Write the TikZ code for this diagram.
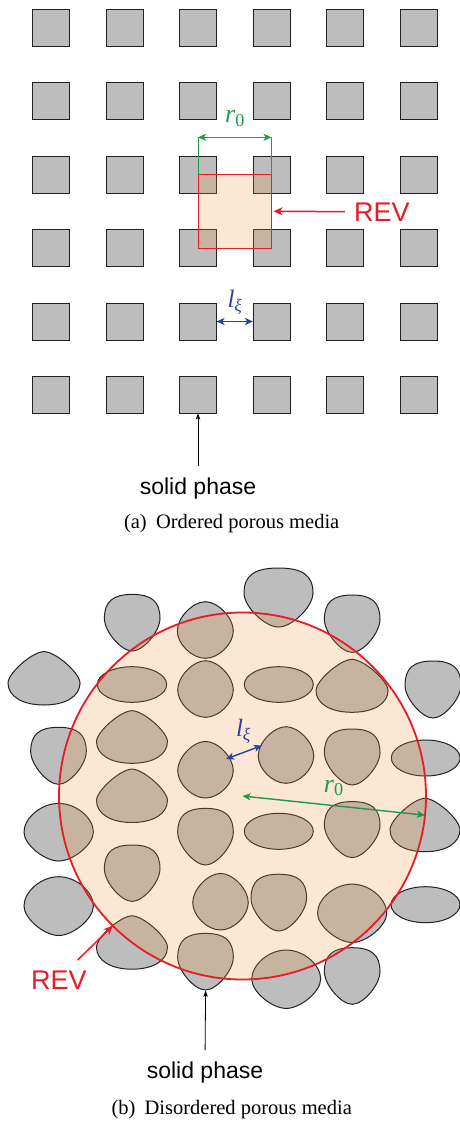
\documentclass[tikz,border=0pt]{standalone}
\usepackage{fontspec}
\setmainfont{Liberation Serif}
\setsansfont{Liberation Sans}
\usetikzlibrary{arrows.meta}
\definecolor{solid}{HTML}{BDBDBD}
\definecolor{edge}{HTML}{222222}
\definecolor{revred}{HTML}{E41E26}
\definecolor{revfill}{HTML}{F08C3C}
\definecolor{dimgreen}{HTML}{1E9A48}
\definecolor{dimblue}{HTML}{2B40A0}
\tikzset{
  sq/.style={draw=edge, fill=solid, line width=1pt, minimum size=37pt, inner sep=0pt, outer sep=0pt},
  blob/.style={draw=edge, fill=solid, line width=1pt},
  redarrow/.style={draw=revred, line width=1.5pt, -{Stealth[length=9pt,width=8pt,inset=2.5pt]}},
  greenarrow/.style={draw=dimgreen, line width=1.4pt, {Stealth[length=8pt,width=7pt,inset=2pt]}-{Stealth[length=8pt,width=7pt,inset=2pt]}},
  bluearrow/.style={draw=dimblue, line width=1.4pt, {Stealth[length=8pt,width=7pt,inset=2pt]}-{Stealth[length=8pt,width=7pt,inset=2pt]}},
  blackarrow/.style={draw=black, line width=0.8pt, -{Stealth[length=6pt,width=4.5pt,inset=1.5pt]}},
  sptext/.style={font=\sffamily\fontsize{23}{27}\selectfont, inner sep=0pt, anchor=base},
  revtext/.style={font=\sffamily\fontsize{27}{32}\selectfont, text=revred, inner sep=0pt, anchor=base},
  captext/.style={font=\fontsize{20.5}{24}\selectfont, inner sep=0pt, anchor=base},
  greenlab/.style={font=\fontsize{26}{30}\selectfont, text=dimgreen, inner sep=0pt},
  bluelab/.style={font=\fontsize{25}{30}\selectfont, text=dimblue, inner sep=0pt},
}
% generic blob: centre x, centre y, half width, half height, height of widest point, top handle, bottom handle
\newcommand\blobQ[7]{\begin{scope}[shift={(#1,#2)},xscale=#3,yscale=#4]
\draw[blob] (1,#5) .. controls (1,{#5-#6*(1+#5)}) and (#6,-1) .. (0,-1)
  .. controls (-#6,-1) and (-1,{#5-#6*(1+#5)}) .. (-1,#5)
  .. controls (-1,{#5+#7*(1-#5)}) and (-#7,1) .. (0,1)
  .. controls (#7,1) and (1,{#5+#7*(1-#5)}) .. cycle;
\end{scope}}
\newcommand\blobT[4]{\blobQ{#1}{#2}{#3}{#4}{-0.15}{0.7}{0.4}}
\newcommand\blobD[4]{\blobQ{#1}{#2}{#3}{#4}{0.03}{0.45}{0.48}}
\newcommand\blobW[4]{\blobQ{#1}{#2}{#3}{#4}{0}{0.5}{0.42}}
\newcommand\blobB[4]{\blobQ{#1}{#2}{#3}{#4}{0.18}{0.32}{0.6}}
\newcommand\blobE[4]{\draw[blob] (#1,#2) ellipse [x radius=#3pt, y radius=#4pt];}
\begin{document}
\begin{tikzpicture}[x=1pt,y=-1pt]
\useasboundingbox (0,0) rectangle (460,1122);
% ---------- (a) ordered ----------
\foreach \i in {0,...,5}{
  \foreach \j in {0,...,5}{
    \node[sq] (s\i\j) at ({51+73.5*\i},{27.5+73.5*\j}) {};
  }
}
\node[draw=revred, line width=1pt, fill=revfill, fill opacity=0.22, minimum size=73.5pt, inner sep=0pt, outer sep=0pt] (revsq) at (234.75,211.25) {};
\coordinate (g1) at (198,137.3);
\coordinate (g2) at (271.5,137.3);
\draw[dimgreen, line width=0.7pt] (revsq.north west) -- (g1);
\draw[dimgreen, line width=0.7pt] (revsq.north east) -- (g2);
\draw[greenarrow] (g1) -- (g2);
\node[greenlab] (r0a) at (235,118.5) {\textit{r}\textsubscript{0}};
\node[revtext, anchor=base west] (reva) at (354,221) {REV};
\draw[redarrow, shorten <=9pt, shorten >=2pt] (reva.west) -- (revsq.east);
\draw[bluearrow] (s24.east) -- (s34.west);
\node[bluelab] (lxa) at (235,302) {\textit{l}\textsubscript{\textit{ξ}}};
\node[sptext] (spa) at (198,494.3) {solid phase};
\draw[blackarrow, shorten <=11pt] (spa.north) -- (s25.south);
\node[captext] (capa) at (231.7,528.3) {(a)\hspace{0.45em}Ordered porous media};
% ---------- (b) disordered ----------
\blobT{278.5}{597.5}{34.5}{29.5}
\blobT{352.2}{623.7}{27.8}{28.7}
\blobT{132.2}{622.7}{27.8}{28.3}
\blobD{205.3}{630}{28}{28.3}
\blobB{44}{678.3}{36}{26.7}
\blobE{132}{684.5}{34.7}{17.8}
\blobD{205.5}{689}{27.8}{28.3}
\blobE{278.8}{684.5}{34.5}{17.8}
\blobB{352}{685.8}{36}{26.5}
\blobT{433}{689.5}{28}{28.5}
\blobT{58.5}{755.8}{27.8}{28.5}
\blobB{132}{737}{35.5}{26.3}
\blobD{205.5}{769.7}{27.8}{28.3}
\blobD{286}{755}{27.8}{28.3}
\blobT{352.2}{757}{27.8}{28}
\blobE{425.7}{758}{34.4}{18}
\blobB{132}{795.8}{35.5}{26.7}
\blobW{58.7}{832.2}{34.7}{28.8}
\blobT{205.5}{836.7}{27.8}{28.3}
\blobE{278.8}{831.3}{34.5}{18}
\blobT{352.2}{829.6}{27.8}{28}
\blobB{425}{825}{35}{26.7}
\blobT{132.2}{873.2}{27.8}{28.2}
\blobW{58.7}{906.1}{34.7}{29.4}
\blobD{220.5}{901.7}{27.8}{28.3}
\blobT{278.8}{902.6}{27.8}{28.4}
\blobW{352.1}{913.3}{34.6}{29.2}
\blobE{425.5}{904.7}{34.5}{18}
\blobB{132}{942.5}{35.5}{26.7}
\blobT{205.5}{961.7}{27.8}{28.3}
\blobW{286.2}{979.2}{34.5}{29.2}
\blobT{352.2}{976}{27.8}{28.3}
\node[circle, draw=revred, line width=1.8pt, fill=revfill, fill opacity=0.22, minimum size=367pt, inner sep=0pt, outer sep=0pt] (rev) at (242.5,796) {};
\draw[greenarrow] (rev.center) -- (rev.-6.8);
\node[greenlab] (r0b) at (333.8,788) {\textit{r}\textsubscript{0}};
\coordinate (lb1) at (226,759);
\coordinate (lb2) at (262,745.5);
\draw[bluearrow] (lb1) -- (lb2);
\node[bluelab] (lxb) at (243.5,731) {\textit{l}\textsubscript{\textit{ξ}}};
\node[revtext] (revb) at (59,989) {REV};
\coordinate (rbt) at (77.7,960);
\draw[redarrow] (rbt) -- (rev.225);
\coordinate (spt) at (205.6,990.7);
\node[sptext] (spb) at (205,1078.3) {solid phase};
\draw[blackarrow, shorten <=11pt] (spb.north) -- (spt);
\node[captext] (capb) at (231.7,1114) {(b)\hspace{0.45em}Disordered porous media};
\end{tikzpicture}
\end{document}
